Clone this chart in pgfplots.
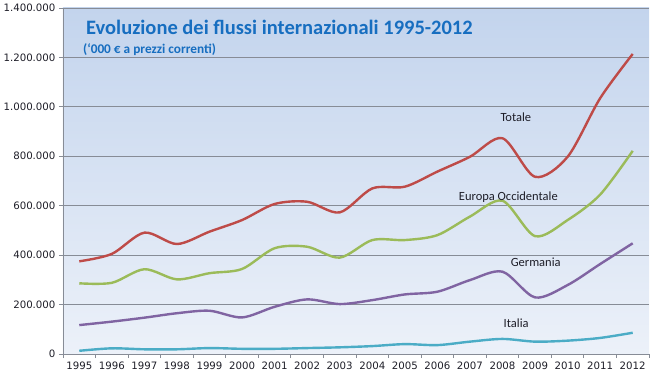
\documentclass[border=0pt]{standalone}
\usepackage{fontspec}
\setmainfont{Carlito}
\newfontfamily\tickfont{DejaVu Sans}
\usepackage{pgfplots}
\usepackage{pgfplotstable}
\pgfplotsset{compat=1.18}
\definecolor{cTot}{RGB}{190,75,72}
\definecolor{cEur}{RGB}{155,187,89}
\definecolor{cGer}{RGB}{128,100,162}
\definecolor{cIta}{RGB}{75,172,198}
\definecolor{titleblue}{RGB}{23,110,192}
\definecolor{bgtop}{RGB}{195,212,237}
\definecolor{bgbot}{RGB}{236,241,249}
\definecolor{gridc}{RGB}{135,140,150}
\definecolor{labc}{RGB}{30,30,40}

% year index: 0 = 1995 ... 17 = 2012
\pgfplotstableread{
x totale europa germania italia
0  375000 286000 117000 13000
1  405000 288000 131000 23000
2  491000 343000 147000 19000
3  445000 302000 165000 19000
4  495000 327000 175000 24000
5  542000 344000 148000 21000
6  607000 428000 191000 21000
7  616000 434000 221000 24000
8  573000 390000 202000 27000
9  670000 461000 218000 32000
10 677000 461000 241000 40000
11 738000 481000 252000 36000
12 798000 556000 299000 50000
13 873000 620000 333000 61000
14 717000 477000 229000 50000
15 798000 542000 279000 54000
16 1035000 645000 364000 65000
17 1214000 822000 448000 86000
}\datatable

\begin{document}
\begin{tikzpicture}
\begin{axis}[
  at={(0,0)}, anchor=south west,
  scale only axis, width=586pt, height=346pt,
  xmin=-0.5, xmax=17.5, ymin=0, ymax=1400000,
  axis x line*=bottom, axis y line*=left,
  axis line style={-, draw=gridc, line width=0.8pt},
  ytick={0,200000,400000,600000,800000,1000000,1200000,1400000},
  scaled y ticks=false,
  yticklabel style={/pgf/number format/.cd, fixed, 1000 sep={.}, assume math mode=true},
  tick label style={font=\tickfont\fontsize{10.2}{12}\selectfont, text=labc},
  ymajorgrids, grid style={draw=gridc, line width=0.8pt},
  xtick={0,...,17},
  xticklabels={1995,1996,1997,1998,1999,2000,2001,2002,2003,2004,2005,2006,2007,2008,2009,2010,2011,2012},
  minor xtick={-0.5,0.5,...,17.5},
  tick align=outside,
  major x tick style={draw=none},
  minor tick style={draw=gridc, line width=0.8pt},
  major tick style={draw=gridc, line width=0.8pt},
  major tick length=4pt, minor tick length=4pt,
  axis background/.style={shade, top color=bgtop, bottom color=bgbot},
  every axis plot/.append style={line width=2.4pt, smooth, tension=0.5, no markers},
  clip=false,
]
\addplot[cTot] table[x=x, y=totale] {\datatable};
\addplot[cEur] table[x=x, y=europa] {\datatable};
\addplot[cGer] table[x=x, y=germania] {\datatable};
\addplot[cIta] table[x=x, y=italia] {\datatable};

\node[anchor=base west, text=titleblue, font=\bfseries\fontsize{20.5}{24}\selectfont, inner sep=0pt]
  at (rel axis cs:0.0393,0.9220) {Evoluzione dei flussi internazionali 1995-2012};
\node[anchor=base west, text=titleblue, font=\bfseries\fontsize{13.3}{16}\selectfont, inner sep=0pt]
  at (rel axis cs:0.0341,0.8690) {(‘000 € a prezzi correnti)};

\node[anchor=base, text=labc, font=\fontsize{12.5}{15}\selectfont, inner sep=0pt] at (axis cs:13.41,940000) {Totale};
\node[anchor=base, text=labc, font=\fontsize{12.5}{15}\selectfont, inner sep=0pt] at (axis cs:13.18,620000) {Europa Occidentale};
\node[anchor=base, text=labc, font=\fontsize{12.5}{15}\selectfont, inner sep=0pt] at (axis cs:14.02,353000) {Germania};
\node[anchor=base, text=labc, font=\fontsize{12.5}{15}\selectfont, inner sep=0pt] at (axis cs:13.42,108000) {Italia};
\end{axis}
\pgfresetboundingbox
\path (-63pt,-24pt) rectangle (596pt,354pt);
\end{tikzpicture}
\end{document}
